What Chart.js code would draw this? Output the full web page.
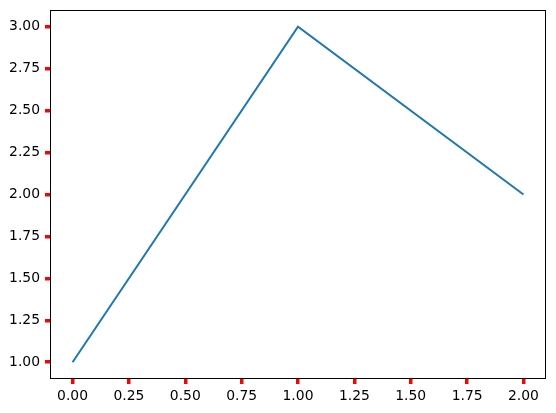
<!DOCTYPE html>
<html lang="en">
<head>
    <meta charset="UTF-8">
    <title>Line</title>
    <script src="https://cdn.jsdelivr.net/npm/chart.js"></script>
    <style>
        body { margin: 0; background: #fff; }
    </style>
</head>
<body>
    <canvas id="chart" width="556" height="413"></canvas>
    <script>
        const xValues = [0, 1, 2];
        const yValues = [1, 3, 2];
        const xTicks = [0, 0.25, 0.5, 0.75, 1, 1.25, 1.5, 1.75, 2];
        const yTicks = [1, 1.25, 1.5, 1.75, 2, 2.25, 2.5, 2.75, 3];

        // frame around the plot area, like a matplotlib axes box
        const frame = {
            id: 'frame',
            afterDraw(chart) {
                const a = chart.chartArea;
                const c = chart.ctx;
                c.save();
                c.strokeStyle = '#000';
                c.lineWidth = 1;
                c.strokeRect(Math.round(a.left) + 0.5, Math.round(a.top) + 0.5,
                    Math.round(a.right - a.left) - 1, Math.round(a.bottom - a.top) - 1);
                c.restore();
            }
        };

        const tickFont = { family: 'DejaVu Sans', size: 13.9 };

        new Chart(document.getElementById('chart'), {
            type: 'line',
            data: {
                datasets: [{
                    data: xValues.map((x, i) => ({ x: x, y: yValues[i] })),
                    borderColor: '#1f77b4',
                    borderWidth: 2,
                    pointRadius: 0,
                    tension: 0,
                    fill: false
                }]
            },
            options: {
                responsive: false,
                animation: false,
                layout: { padding: { top: 10, right: 10, left: 0, bottom: 0 } },
                plugins: { legend: { display: false }, tooltip: { enabled: false } },
                scales: {
                    x: {
                        type: 'linear',
                        min: -0.1,
                        max: 2.1,
                        afterBuildTicks: s => { s.ticks = xTicks.map(v => ({ value: v })); },
                        afterFit: s => { s.height = 34; s.paddingLeft = 0; s.paddingRight = 0; },
                        ticks: { color: '#000', font: tickFont, padding: 4, maxRotation: 0,
                            autoSkip: false, callback: v => v.toFixed(2) },
                        grid: { drawOnChartArea: false, tickLength: 5, color: '#ff0000', lineWidth: 3.5 },
                        border: { display: false }
                    },
                    y: {
                        min: 0.9,
                        max: 3.1,
                        afterBuildTicks: s => { s.ticks = yTicks.map(v => ({ value: v })); },
                        afterFit: s => { s.width = 50; s.paddingTop = 0; s.paddingBottom = 0; },
                        ticks: { color: '#000', font: tickFont, padding: 5,
                            autoSkip: false, callback: v => v.toFixed(2) },
                        grid: { drawOnChartArea: false, tickLength: 5, color: '#ff0000', lineWidth: 3.5 },
                        border: { display: false }
                    }
                }
            },
            plugins: [frame]
        });
    </script>
</body>
</html>
